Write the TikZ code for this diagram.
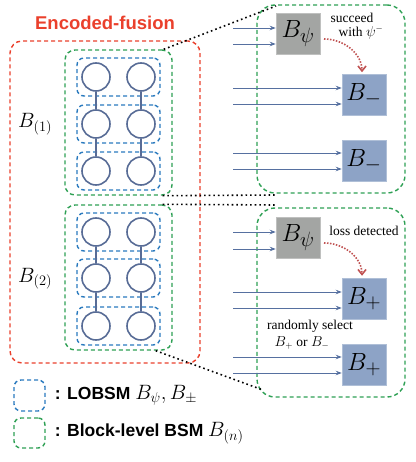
\documentclass[tikz,border=0pt]{standalone}
\usepackage{fontspec}
\usepackage{amsmath}
\usetikzlibrary{arrows.meta,positioning}
\newfontfamily\notefont{Liberation Serif}
\newfontfamily\headfont{Liberation Sans}
\newcommand{\keymath}[1]{{\fontsize{20.74}{22}\selectfont$#1$}}
\definecolor{fusred}{RGB}{234,64,44}
\definecolor{bsmgreen}{RGB}{46,160,84}
\definecolor{lobblue}{RGB}{42,122,190}
\definecolor{qubitcol}{RGB}{88,108,150}
\definecolor{feedcol}{RGB}{86,112,160}
\definecolor{probegray}{RGB}{163,165,163}
\definecolor{measblue}{RGB}{141,163,198}
\definecolor{heraldred}{RGB}{192,82,82}
\begin{document}
\begin{tikzpicture}[x=1pt, y=-1pt,
    fusion/.style={draw=fusred, line width=1.4pt, dash pattern=on 4pt off 3pt, rounded corners=12pt},
    bsm/.style={draw=bsmgreen, line width=1.4pt, dash pattern=on 4pt off 3pt, rounded corners=10pt},
    lobsm/.style={draw=lobblue, line width=1.4pt, dash pattern=on 4pt off 3pt, rounded corners=7pt},
    qubit/.style={circle, draw=qubitcol, line width=1.6pt, minimum size=28pt, inner sep=0pt},
    chain/.style={draw=qubitcol, line width=1.6pt},
    probe/.style={fill=probegray, draw=probegray!70!white, line width=0.5pt, minimum width=44pt, minimum height=41pt, inner sep=0pt, font=\fontsize{24.88}{28}\selectfont},
    meas/.style={fill=measblue, draw=measblue!70!white, line width=0.5pt, minimum width=44pt, minimum height=41pt, inner sep=0pt, font=\fontsize{24.88}{28}\selectfont},
    feed/.style={draw=feedcol, line width=0.9pt, -{Stealth[length=6pt, width=4.5pt]}},
    herald/.style={draw=heraldred, line width=1.6pt, dash pattern=on 1.5pt off 1.5pt, shorten >=2pt, -{Straight Barb[length=5pt, width=8pt]}},
    zoomline/.style={draw=black, line width=1.6pt, dash pattern=on 1.6pt off 3pt},
    note/.style={font=\notefont\fontsize{13.5}{15}\selectfont, inner sep=1pt},
    key/.style={font=\headfont\bfseries\fontsize{17.5}{20}\selectfont, inner sep=1pt}]

   \useasboundingbox (0,0) rectangle (415,462);

   \node [text=fusred, font=\headfont\bfseries\fontsize{18.5}{21}\selectfont] (title) at (105,23) {Encoded-fusion};
   \node [fusion, minimum width=190pt, minimum height=322pt] (enc) at (105,202) {};

   \foreach \n/\y in {1/122.5, 2/277.5}
     \node [bsm, minimum width=107pt, minimum height=145pt] (blk\n) at (118.5,\y) {};

   \foreach \n/\ya/\yb/\yc in {1/77/124/171, 2/232/278/326} {
     \foreach \r/\y in {1/\ya, 2/\yb, 3/\yc} {
       \node [lobsm, minimum width=83pt, minimum height=38pt] (row\n\r) at (118.5,\y) {};
       \node [qubit] (q\n\r a) at (96,\y) {};
       \node [qubit] (q\n\r b) at (141,\y) {};
     }
     \draw [chain] (q\n1a) -- (q\n2a) -- (q\n3a);
     \draw [chain] (q\n1b) -- (q\n2b) -- (q\n3b);
   }

   \node [anchor=base west, inner sep=0pt, font=\fontsize{20.74}{24}\selectfont] (lab1) at (18,128) {$B_{(1)}$};
   \node [anchor=base west, inner sep=0pt, font=\fontsize{20.74}{24}\selectfont] (lab2) at (18,282) {$B_{(2)}$};

   \node [bsm, rounded corners=18pt, minimum width=148pt, minimum height=188pt] (det1) at (331,99) {};
   \node [bsm, rounded corners=18pt, minimum width=148pt, minimum height=189pt] (det2) at (331,302.5) {};

   \node [probe] (psi1) at (298,33.5) {$B_\psi$};
   \node [meas] (m1) at (364,95) {$B_-$};
   \node [meas] (m2) at (364,161) {$B_-$};
   \node [probe] (psi2) at (298,237.5) {$B_\psi$};
   \node [meas] (p1) at (364,298.5) {$B_+$};
   \node [meas] (p2) at (364,365) {$B_+$};

   \foreach \b/\ya/\yb in {psi1/28/44, m1/88/104, m2/153/169, psi2/232/249, p1/292/308, p2/357/373} {
     \coordinate (\b-a) at (233,\ya);
     \coordinate (\b-b) at (233,\yb);
     \draw [feed] (\b-a) -- (\b-a -| \b.west);
     \draw [feed] (\b-b) -- (\b-b -| \b.west);
   }

   \coordinate (h1) at (324,39);
   \coordinate (h2) at (324,243);
   \draw [herald] (h1) to[out=0, in=90] ([xshift=-2pt]m1.north);
   \draw [herald] (h2) to[out=0, in=90] ([xshift=-2pt]p1.north);

   \node [note] (ok1) at (352,18) {succeed};
   \node [note] (ok2) at (361,33) {with $\psi^-$};
   \node [note] (lost) at (364,231) {loss detected};
   \node [note] (rnd1) at (310,326) {randomly select};
   \node [note] (rnd2) at (302,343) {$B_+$ or $B_-$};

   \coordinate (z1) at (276,6);
   \coordinate (z2) at (277,195);
   \coordinate (z3) at (277,205);
   \coordinate (z4) at (263,390);
   \draw [zoomline] ([xshift=-9pt]blk1.north east) -- (z1);
   \draw [zoomline] ([xshift=-10pt]blk1.south east) -- (z2);
   \draw [zoomline] ([xshift=-10pt]blk2.north east) -- (z3);
   \draw [zoomline] ([xshift=-17pt]blk2.south east) -- (z4);

   \node [lobsm, minimum width=31pt, minimum height=31pt] (keyA) at (29.5,395.5) {};
   \node [bsm, rounded corners=7pt, minimum width=31pt, minimum height=30pt] (keyB) at (29.5,433) {};
   \node [key, right=8pt of keyA] (keyAtext) {: LOBSM \keymath{B_\psi, B_\pm}};
   \node [key, right=8pt of keyB] (keyBtext) {: Block-level BSM \keymath{B_{(n)}}};

\end{tikzpicture}
\end{document}
